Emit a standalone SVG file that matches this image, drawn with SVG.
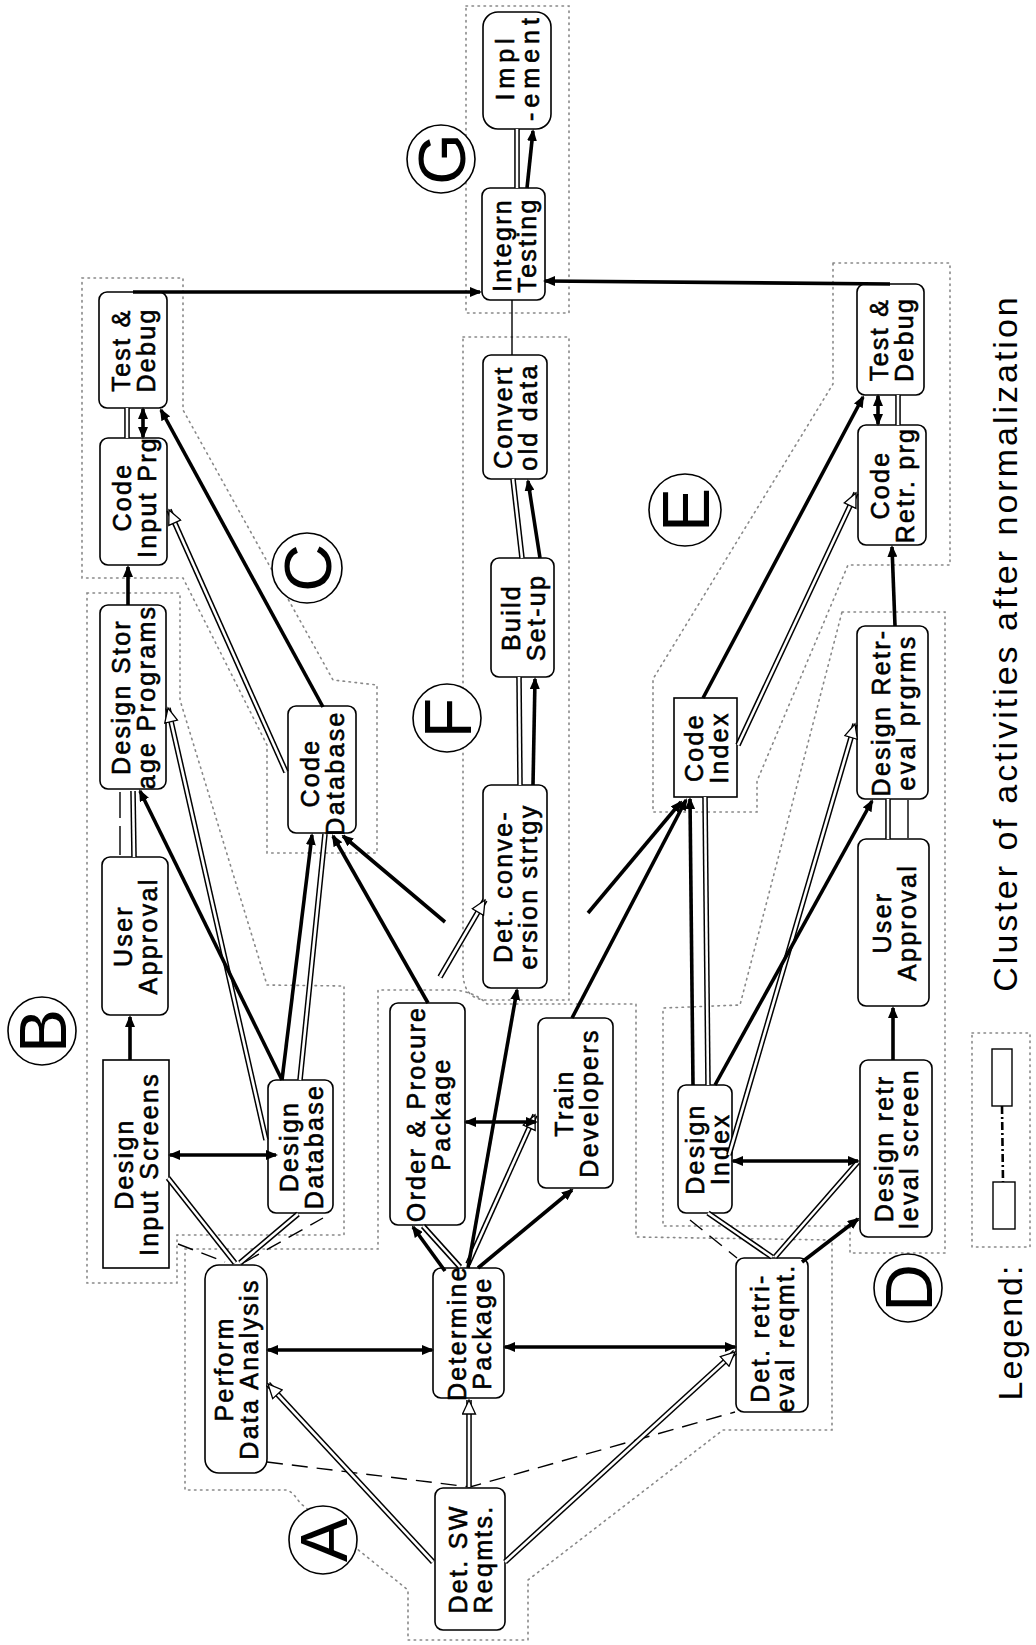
<svg xmlns="http://www.w3.org/2000/svg" width="1036" height="1645" viewBox="0 0 1036 1645">
  <style>
    .box { fill: #fff; stroke: #000; stroke-width: 1.6; }
    .lbl { font-family: "Liberation Sans", Arial, sans-serif; font-size: 25px; letter-spacing: 2.3px; text-anchor: middle; fill: #000; stroke: #000; stroke-width: 0.6; }
    .letter { font-family: "Liberation Sans", Arial, sans-serif; font-size: 66px; text-anchor: middle; fill: #000; }
    .ring { fill: #fff; stroke: #000; stroke-width: 1.6; }
    .caption { font-family: "Liberation Sans", Arial, sans-serif; font-size: 34px; letter-spacing: 3px; text-anchor: middle; fill: #000; }
    .cluster { fill: none; stroke: #888; stroke-width: 1.6; stroke-dasharray: 1.5 4.5; stroke-linecap: round; }
    .thick { fill: none; stroke: #000; stroke-width: 3.6; }
    .dbl-o { fill: none; stroke: #000; stroke-width: 5.6; }
    .dbl-i { fill: none; stroke: #fff; stroke-width: 2.6; }
    .thin { fill: none; stroke: #000; stroke-width: 1.4; }
    .dash { fill: none; stroke: #000; stroke-width: 1.4; stroke-dasharray: 16 9; }
  </style>
  <defs>
    <marker id="ah" viewBox="0 0 12 10" refX="10" refY="5" markerWidth="12" markerHeight="10" orient="auto-start-reverse" markerUnits="userSpaceOnUse">
      <path d="M0,0 L12,5 L0,10 z" fill="#000"/>
    </marker>
    <marker id="hh" viewBox="-1 -1 17 15" refX="14" refY="6.5" markerWidth="17" markerHeight="15" orient="auto" markerUnits="userSpaceOnUse">
      <path d="M0,0 L14,6.5 L0,13 z" fill="#fff" stroke="#000" stroke-width="1.3"/>
    </marker>
  </defs>

  <rect width="1036" height="1645" fill="#fff"/>

  <!-- cluster outlines -->
  <g id="clusters">
    <path class="cluster" d="M185,1249 L378,1249 L378,990 L455,990 Q475,992 487,1004 L636,1004 L636,1237 L832,1240 L832,1430 L723,1430 L528,1580 L528,1640 L408,1640 L408,1590 L300,1503 Q293,1492 287,1490 L185,1490 Z"/>
    <path class="cluster" d="M87,593 L180,593 L180,700 L267,985 L344,986 L344,1235 L177,1235 L177,1283 L87,1283 Z"/>
    <path class="cluster" d="M82,278 L183,278 L183,410 L333,680 L377,685 L377,853 L267,853 L267,745 L183,578 L82,578 Z"/>
    <path class="cluster" d="M842,612 L945,612 L945,1253 L850,1253 L850,1226 L663,1226 L663,1008 L740,1005 Z"/>
    <path class="cluster" d="M833,263 L950,263 L950,565 L848,565 L757,781 L757,812 L653,812 L653,679 L833,384 Z"/>
    <path class="cluster" d="M463,337 L569,337 L569,1000 L485,1000 Q463,998 463,972 Z"/>
    <path class="cluster" d="M466,6 L569,6 L569,313 L466,313 Z"/>
    <path class="cluster" d="M972,1033 L1030,1033 L1030,1247 L972,1247 Z"/>
  </g>

  <!-- activity nodes -->
  <g id="det-sw"><rect class="box" x="435" y="1488" width="70" height="142" rx="8"/>
    <text class="lbl" transform="translate(470,1559) rotate(-90)"><tspan x="0" y="-3">Det. SW</tspan><tspan x="0" y="22">Reqmts.</tspan></text></g>
  <g id="perform"><rect class="box" x="205" y="1265" width="62" height="208" rx="14"/>
    <text class="lbl" transform="translate(236,1369) rotate(-90)"><tspan x="0" y="-3">Perform</tspan><tspan x="0" y="22">Data Analysis</tspan></text></g>
  <g id="determine"><rect class="box" x="433" y="1268" width="71" height="130" rx="8"/>
    <text class="lbl" transform="translate(468.5,1333) rotate(-90)"><tspan x="0" y="-3">Determine</tspan><tspan x="0" y="22">Package</tspan></text></g>
  <g id="det-retr"><rect class="box" x="736" y="1258" width="72" height="154" rx="8"/>
    <text class="lbl" transform="translate(772,1338) rotate(-90)"><tspan x="0" y="-3">Det. retri-</tspan><tspan x="0" y="22">eval reqmt.</tspan></text></g>
  <g id="design-input"><rect class="box" x="103" y="1060" width="66" height="208"/>
    <text class="lbl" transform="translate(136,1164) rotate(-90)"><tspan x="0" y="-3">Design</tspan><tspan x="0" y="22">Input Screens</tspan></text></g>
  <g id="design-db"><rect class="box" x="268" y="1080" width="65" height="133" rx="8"/>
    <text class="lbl" transform="translate(300.5,1146.5) rotate(-90)"><tspan x="0" y="-3">Design</tspan><tspan x="0" y="22">Database</tspan></text></g>
  <g id="user-approval-b"><rect class="box" x="102" y="857" width="66" height="158" rx="8"/>
    <text class="lbl" transform="translate(135,936) rotate(-90)"><tspan x="0" y="-3">User</tspan><tspan x="0" y="22">Approval</tspan></text></g>
  <g id="design-stor"><rect class="box" x="100" y="605" width="66" height="184" rx="8"/>
    <text class="lbl" transform="translate(133,697) rotate(-90)"><tspan x="0" y="-3">Design Stor</tspan><tspan x="0" y="22">age Programs</tspan></text></g>
  <g id="code-db"><rect class="box" x="288" y="706" width="68" height="127" rx="8"/>
    <text class="lbl" transform="translate(322,773) rotate(-90)"><tspan x="0" y="-3">Code</tspan><tspan x="0" y="22">Database</tspan></text></g>
  <g id="code-input"><rect class="box" x="100" y="438" width="67" height="127" rx="8"/>
    <text class="lbl" transform="translate(133.5,497) rotate(-90)"><tspan x="0" y="-3">Code</tspan><tspan x="0" y="22">Input Prg</tspan></text></g>
  <g id="test-debug-b"><rect class="box" x="99" y="292" width="68" height="116" rx="8"/>
    <text class="lbl" transform="translate(133,350) rotate(-90)"><tspan x="0" y="-3">Test &amp;</tspan><tspan x="0" y="22">Debug</tspan></text></g>
  <g id="order-procure"><rect class="box" x="390" y="1003" width="75" height="222" rx="8"/>
    <text class="lbl" transform="translate(427.5,1114) rotate(-90)"><tspan x="0" y="-3">Order &amp; Procure</tspan><tspan x="0" y="22">Package</tspan></text></g>
  <g id="train-dev"><rect class="box" x="538" y="1018" width="75" height="170" rx="8"/>
    <text class="lbl" transform="translate(575.5,1103) rotate(-90)"><tspan x="0" y="-3">Train</tspan><tspan x="0" y="22">Developers</tspan></text></g>
  <g id="det-conv"><rect class="box" x="483" y="785" width="64" height="203" rx="8"/>
    <text class="lbl" transform="translate(515,886.5) rotate(-90)"><tspan x="0" y="-3">Det. conve-</tspan><tspan x="0" y="22">ersion strtgy</tspan></text></g>
  <g id="build-setup"><rect class="box" x="491" y="558" width="63" height="119" rx="8"/>
    <text class="lbl" transform="translate(522.5,617.5) rotate(-90)"><tspan x="0" y="-3">Build</tspan><tspan x="0" y="22">Set-up</tspan></text></g>
  <g id="convert"><rect class="box" x="483" y="355" width="64" height="124" rx="8"/>
    <text class="lbl" transform="translate(515,417) rotate(-90)"><tspan x="0" y="-3">Convert</tspan><tspan x="0" y="22">old data</tspan></text></g>
  <g id="integrn"><rect class="box" x="482" y="188" width="63" height="112" rx="8"/>
    <text class="lbl" transform="translate(513.5,245) rotate(-90)"><tspan x="0" y="-3">Integrn</tspan><tspan x="0" y="22">Testing</tspan></text></g>
  <g id="implement"><rect class="box" x="483" y="12" width="68" height="117" rx="15"/>
    <text class="lbl" transform="translate(517,67) rotate(-90)" style="letter-spacing:5px"><tspan x="0" y="-3">Impl</tspan><tspan x="0" y="22">-ement</tspan></text></g>
  <g id="design-index"><rect class="box" x="678" y="1085" width="54" height="128" rx="8"/>
    <text class="lbl" transform="translate(705,1149) rotate(-90)"><tspan x="0" y="-1">Design</tspan><tspan x="0" y="24">Index</tspan></text></g>
  <g id="code-index"><rect class="box" x="674" y="698" width="63" height="99"/>
    <text class="lbl" transform="translate(705.5,747.5) rotate(-90)"><tspan x="0" y="-3">Code</tspan><tspan x="0" y="22">Index</tspan></text></g>
  <g id="design-retr-screen"><rect class="box" x="860" y="1060" width="72" height="177" rx="8"/>
    <text class="lbl" transform="translate(896,1148.5) rotate(-90)"><tspan x="0" y="-3">Design retr</tspan><tspan x="0" y="22">leval screen</tspan></text></g>
  <g id="user-approval-d"><rect class="box" x="858" y="839" width="71" height="167" rx="8"/>
    <text class="lbl" transform="translate(893.5,922.5) rotate(-90)"><tspan x="0" y="-3">User</tspan><tspan x="0" y="22">Approval</tspan></text></g>
  <g id="design-retr-prg"><rect class="box" x="857" y="626" width="71" height="173" rx="8"/>
    <text class="lbl" transform="translate(892.5,712.5) rotate(-90)"><tspan x="0" y="-3">Design Retr-</tspan><tspan x="0" y="22">eval prgrms</tspan></text></g>
  <g id="code-retr"><rect class="box" x="858" y="425" width="68" height="120" rx="8"/>
    <text class="lbl" transform="translate(892,485) rotate(-90)"><tspan x="0" y="-3">Code</tspan><tspan x="0" y="22">Retr. prg</tspan></text></g>
  <g id="test-debug-e"><rect class="box" x="857" y="284" width="67" height="111" rx="8"/>
    <text class="lbl" transform="translate(890.5,339.5) rotate(-90)"><tspan x="0" y="-3">Test &amp;</tspan><tspan x="0" y="22">Debug</tspan></text></g>

  <!-- connectors -->
  <g id="connectors">
    <!-- dashed links -->
    <path class="dash" d="M267,1462 L470,1487 L735,1412"/>
    <path class="dash" d="M178,1244 L225,1262"/>
    <path class="dash" d="M245,1262 L323,1218"/>
    <path class="dash" d="M690,1220 L737,1258"/>

    <!-- thin links -->
    <path class="thin" d="M120,855 L120,826 M120,818 L120,792"/>
    <path class="thin" d="M908,838 L908,800"/>
    <path class="thin" d="M512,300 L512,355"/>

    <!-- double links, outer strokes -->
    <g class="dbl-o">
      <path d="M433,1562 L268,1384"/>
      <path d="M469,1487 L469,1400"/>
      <path d="M505,1562 L735,1352"/>
      <path d="M266,1140 L168,708"/>
      <path d="M286,772 L169,510"/>
      <path d="M440,977 L485,900"/>
      <path d="M468,1264 L535,1115"/>
      <path d="M729,1155 L855,724"/>
      <path d="M738,745 L856,493"/>
      <path d="M235,1263 L168,1178"/>
      <path d="M240,1263 L298,1214"/>
      <path d="M134,857 L133,791"/>
      <path d="M300,1080 L325,834"/>
      <path d="M127,438 L127,408"/>
      <path d="M460,1267 L423,1226"/>
      <path d="M517,188 L517,129"/>
      <path d="M522,558 L513,479"/>
      <path d="M520,785 L519,677"/>
      <path d="M708,1085 L705,797"/>
      <path d="M772,1257 L708,1213"/>
      <path d="M775,1257 L858,1162"/>
      <path d="M888,839 L888,799"/>
      <path d="M898,425 L898,395"/>
    </g>
    <!-- double links, inner strokes and hollow heads -->
    <g class="dbl-i">
      <path d="M433,1562 L268,1384" marker-end="url(#hh)"/>
      <path d="M469,1487 L469,1400" marker-end="url(#hh)"/>
      <path d="M505,1562 L735,1352" marker-end="url(#hh)"/>
      <path d="M266,1140 L168,708" marker-end="url(#hh)"/>
      <path d="M286,772 L169,510" marker-end="url(#hh)"/>
      <path d="M440,977 L485,900" marker-end="url(#hh)"/>
      <path d="M468,1264 L535,1115" marker-end="url(#hh)"/>
      <path d="M729,1155 L855,724" marker-end="url(#hh)"/>
      <path d="M738,745 L856,493" marker-end="url(#hh)"/>
      <path d="M235,1263 L168,1178"/>
      <path d="M240,1263 L298,1214"/>
      <path d="M134,857 L133,791"/>
      <path d="M300,1080 L325,834"/>
      <path d="M127,438 L127,408"/>
      <path d="M460,1267 L423,1226"/>
      <path d="M517,188 L517,129"/>
      <path d="M522,558 L513,479"/>
      <path d="M520,785 L519,677"/>
      <path d="M708,1085 L705,797"/>
      <path d="M772,1257 L708,1213"/>
      <path d="M775,1257 L858,1162"/>
      <path d="M888,839 L888,799"/>
      <path d="M898,425 L898,395"/>
    </g>

    <!-- precedence arrows -->
    <g class="thick" marker-end="url(#ah)">
      <path d="M130,1060 L130,1017"/>
      <path d="M282,1080 L140,791"/>
      <path d="M282,1080 L312,835"/>
      <path d="M128,605 L128,567"/>
      <path d="M323,707 L161,410"/>
      <path d="M133,292 L480,292"/>
      <path d="M890,284 L545,281"/>
      <path d="M527,188 L533,131"/>
      <path d="M540,558 L528,481"/>
      <path d="M533,785 L535,679"/>
      <path d="M468,1268 L517,990"/>
      <path d="M445,1271 L413,1227"/>
      <path d="M478,1268 L572,1190"/>
      <path d="M428,1003 L333,836"/>
      <path d="M445,922 L343,836"/>
      <path d="M572,1018 L686,800"/>
      <path d="M588,913 L681,802"/>
      <path d="M693,1085 L690,799"/>
      <path d="M715,1085 L872,801"/>
      <path d="M802,1262 L858,1219"/>
      <path d="M893,1060 L893,1008"/>
      <path d="M895,626 L892,547"/>
      <path d="M703,698 L863,397"/>
    </g>
    <!-- two-way arrows -->
    <g class="thick" marker-start="url(#ah)" marker-end="url(#ah)">
      <path d="M268,1350 L432,1350"/>
      <path d="M505,1347 L735,1347"/>
      <path d="M170,1155 L276,1155"/>
      <path d="M466,1122 L536,1122"/>
      <path d="M733,1161 L858,1161"/>
      <path d="M143,437 L143,409"/>
      <path d="M878,424 L878,396"/>
    </g>

    <!-- legend sample link -->
    <path d="M1002,1106 L1003,1182" fill="none" stroke="#000" stroke-width="2.6" stroke-dasharray="8 3 2 3"/>
  </g>

  <!-- cluster tags -->
  <g id="tag-a"><circle class="ring" cx="323" cy="1540" r="34"/><text class="letter" transform="translate(323,1540) rotate(-90)" x="0" y="24">A</text></g>
  <g id="tag-b"><circle class="ring" cx="42" cy="1031" r="34"/><text class="letter" transform="translate(42,1031) rotate(-90)" x="0" y="24">B</text></g>
  <g id="tag-c"><circle class="ring" cx="307" cy="568" r="35"/><text class="letter" transform="translate(307,568) rotate(-90)" x="0" y="24">C</text></g>
  <g id="tag-d"><circle class="ring" cx="908" cy="1288" r="34"/><text class="letter" transform="translate(908,1288) rotate(-90)" x="0" y="24">D</text></g>
  <g id="tag-e"><circle class="ring" cx="685" cy="510" r="36"/><text class="letter" transform="translate(685,510) rotate(-90)" x="0" y="24">E</text></g>
  <g id="tag-f"><circle class="ring" cx="447" cy="718" r="34"/><text class="letter" transform="translate(447,718) rotate(-90)" x="0" y="24">F</text></g>
  <g id="tag-g"><circle class="ring" cx="441" cy="159" r="34"/><text class="letter" transform="translate(441,159) rotate(-90)" x="0" y="24">G</text></g>

  <!-- legend -->
  <g id="legend">
    <rect x="992" y="1049" width="20" height="57" fill="#fff" stroke="#000" stroke-width="1.4"/>
    <rect x="993" y="1182" width="22" height="47" fill="#fff" stroke="#000" stroke-width="1.4"/>
    <text class="caption" transform="translate(1022,1332) rotate(-90)" x="0" y="0" style="letter-spacing:2px">Legend:</text>
  </g>
  <text class="caption" transform="translate(1017,643) rotate(-90)" x="0" y="0">Cluster of activities after normalization</text>
</svg>
